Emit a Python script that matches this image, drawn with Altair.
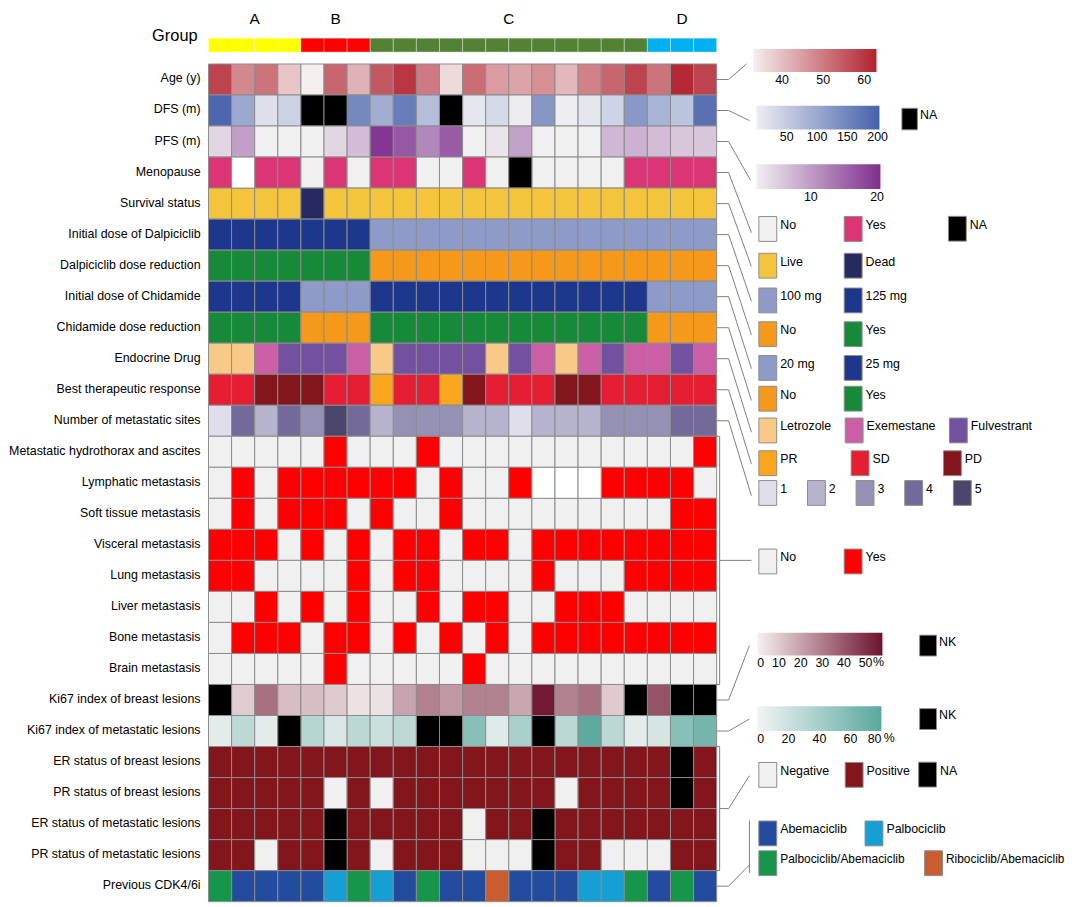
import altair as alt
import pandas as pd

FONT = "Liberation Sans, Arial, Helvetica, sans-serif"
GRID = "#8c8c8c"
LINE = "#7f7f7f"

# ---------------- data ----------------
N_COL = 22
group = ["A"] * 4 + ["B"] * 3 + ["C"] * 12 + ["D"] * 3
group_names = ["A", "B", "C", "D"]
group_colors = ["#FFFF00", "#FF0000", "#548235", "#00B0F0"]

row_labels = [
    "Age (y)", "DFS (m)", "PFS (m)", "Menopause", "Survival status",
    "Initial dose of Dalpiciclib", "Dalpiciclib dose reduction",
    "Initial dose of Chidamide", "Chidamide dose reduction", "Endocrine Drug",
    "Best therapeutic response", "Number of metastatic sites",
    "Metastatic hydrothorax and ascites", "Lymphatic metastasis",
    "Soft tissue metastasis", "Visceral metastasis", "Lung metastasis",
    "Liver metastasis", "Bone metastasis", "Brain metastasis",
    "Ki67 index of breast lesions", "Ki67 index of metastatic lesions",
    "ER status of breast lesions", "PR status of breast lesions",
    "ER status of metastatic lesions", "PR status of metastatic lesions",
    "Previous CDK4/6i",
]

age = [58, 48, 51, 39, 33, 53, 42, 55, 60, 50, 36, 52, 45, 44, 47, 41, 49, 53, 58, 51, 62, 58]
dfs = [195, 99, 20, 41, None, None, 145, 93, 162, 70, None, 12, 30, 3, 125, 0, 12, 38, 123, 84, 61, 180]
pfs = [4.2, 9.6, 1.5, 1.5, 1.5, 4.2, 6.8, 19.8, 16.5, 12, 16.2, 1.5, 2.9, 9.5, 1.5, 1.5, 1.5, 7.2, 7.8, 6.8, 5.8, 5.8]
menopause = ["Yes", "", "Yes", "Yes", "No", "Yes", "No", "Yes", "Yes", "No", "No", "Yes",
             "No", "NA", "No", "No", "No", "No", "Yes", "Yes", "Yes", "Yes"]
survival = ["Live", "Live", "Live", "Live", "Dead"] + ["Live"] * 17
dalpiciclib_dose = ["125 mg"] * 7 + ["100 mg"] * 15
dalpiciclib_reduction = ["Yes"] * 7 + ["No"] * 15
chidamide_dose = ["25 mg"] * 4 + ["20 mg"] * 3 + ["25 mg"] * 12 + ["20 mg"] * 3
chidamide_reduction = ["Yes"] * 4 + ["No"] * 3 + ["Yes"] * 12 + ["No"] * 3
endocrine = ["Letrozole", "Letrozole", "Exemestane", "Fulvestrant", "Fulvestrant", "Fulvestrant",
             "Exemestane", "Letrozole", "Fulvestrant", "Fulvestrant", "Fulvestrant", "Fulvestrant",
             "Letrozole", "Fulvestrant", "Exemestane", "Letrozole", "Exemestane", "Fulvestrant",
             "Exemestane", "Exemestane", "Fulvestrant", "Exemestane"]
response = ["SD", "SD", "PD", "PD", "PD", "SD", "SD", "PR", "SD", "SD", "PR", "PD",
            "SD", "SD", "SD", "PD", "PD", "SD", "SD", "SD", "SD", "SD"]
n_sites = [1, 4, 2, 4, 3, 5, 4, 2, 3, 3, 3, 2, 2, 1, 2, 2, 2, 3, 3, 3, 4, 4]

hydrothorax = [0, 0, 0, 0, 0, 1, 0, 0, 0, 1, 0, 0, 0, 0, 0, 0, 0, 0, 0, 0, 0, 1]
lymphatic = [0, 1, 0, 1, 1, 1, 1, 1, 1, 0, 1, 0, 0, 1, None, None, None, 1, 1, 1, 1, 0]
soft_tissue = [0, 1, 0, 1, 1, 1, 0, 1, 0, 0, 1, 0, 0, 0, 0, 0, 0, 0, 0, 0, 1, 1]
visceral = [1, 1, 1, 0, 1, 0, 1, 0, 1, 1, 0, 1, 1, 0, 1, 1, 1, 1, 1, 1, 1, 1]
lung = [1, 1, 0, 0, 0, 0, 1, 0, 1, 1, 0, 0, 0, 0, 1, 0, 0, 0, 1, 1, 1, 1]
liver = [0, 0, 1, 0, 1, 0, 1, 0, 0, 1, 0, 1, 1, 0, 0, 1, 1, 1, 0, 0, 0, 0]
bone = [0, 1, 1, 1, 0, 1, 1, 0, 1, 0, 1, 0, 1, 0, 1, 1, 1, 1, 1, 1, 1, 1]
brain = [0, 0, 0, 0, 0, 1, 0, 0, 0, 0, 0, 1, 0, 0, 0, 0, 0, 0, 0, 0, 0, 0]
metastasis_rows = [hydrothorax, lymphatic, soft_tissue, visceral, lung, liver, bone, brain]

ki67_breast = [None, 9.5, 33, 13, 13, 10, 4, 4, 20, 29, 23, 29, 29, 19, 56, 29, 33, 10, None, 41, None, None]
ki67_meta = [8, 28, 8, None, 32, 13, 29, 21, 28, None, None, 56, 10, 39, None, 29, 78, 29, 8, 16, 56, 66]

er_breast = ["P", "P", "P", "P", "P", "P", "P", "P", "P", "P", "P", "P", "P", "P", "P", "P", "P", "P", "P", "P", "NA", "P"]
pr_breast = ["P", "P", "P", "P", "P", "N", "P", "N", "P", "P", "P", "P", "P", "P", "P", "N", "P", "P", "P", "P", "NA", "P"]
er_meta = ["P", "P", "P", "P", "P", "NA", "P", "P", "P", "P", "P", "N", "P", "P", "NA", "P", "P", "P", "P", "P", "P", "P"]
pr_meta = ["P", "P", "N", "P", "P", "NA", "P", "N", "P", "P", "P", "N", "N", "N", "NA", "P", "P", "N", "N", "N", "P", "P"]
status_names = {"P": "Positive", "N": "Negative", "NA": "NA"}

cdk = ["PA", "A", "A", "A", "A", "P", "PA", "P", "A", "PA", "A", "A", "RA", "A", "A", "A",
       "P", "P", "PA", "A", "PA", "A"]
cdk_names = {"A": "Abemaciclib", "P": "Palbociclib", "PA": "Palbociclib/Abemaciclib",
             "RA": "Ribociclib/Abemaciclib"}

# ---------------- layout ----------------
W, H = 512, 896
OX, OY = 210, 9
Y_TOP = -1.664
CW = W / N_COL
RH = H / (27 - Y_TOP)
LEG_DX = 6  # legends are drawn a few px left of legendX; compensate


def ux(px):
    return (px - OX) / CW


def uy(py):
    return (py - OY) / RH + Y_TOP


def py_of(r):
    return OY + (r - Y_TOP) * RH


XS = alt.Scale(domain=[0, N_COL], nice=False, zero=False)
YS = alt.Scale(domain=[Y_TOP, 27], reverse=True, nice=False, zero=False)
X = alt.X("c:Q", scale=XS, axis=None)
X2 = alt.X2("c1:Q")
Y = alt.Y("r:Q", scale=YS, axis=None)
Y2 = alt.Y2("r1:Q")

# legend swatches: box drawn in the right part of the symbol's square so labels sit close
BOX = ("M-0.44,-1H1V1H-0.44Z", 625, 7.0)      # 18 x 25
NA_BOX = ("M-0.44,-1H1V1H-0.44Z", 471, 6.1)   # 15.6 x 21.7
NK_BOX = ("M-0.62,-1H1V1H-0.62Z", 441, 4.0)   # 17 x 21


def frame(ri, vals):
    return pd.DataFrame({"c": list(range(N_COL)), "c1": list(range(1, N_COL + 1)),
                         "r": [ri] * N_COL, "r1": [ri + 1] * N_COL, "v": list(vals)})


def rect(df, color=None, **mark):
    ch = alt.Chart(df).mark_rect(stroke=GRID, strokeWidth=1, **mark).encode(x=X, x2=X2, y=Y, y2=Y2)
    if color is not None:
        ch = ch.encode(color=color)
    return ch


def sym_legend(x, y, ncol, colpad, box=BOX, loff=3, fs=12.5):
    path, size, inset = box
    return alt.Legend(orient="none", legendX=x - inset + LEG_DX - OX, legendY=y - OY,
                      direction="horizontal", columns=ncol, title=None, symbolType=path,
                      symbolSize=size, symbolStrokeColor=GRID, symbolStrokeWidth=1,
                      symbolOpacity=1, labelFont=FONT, labelFontSize=fs, labelColor="black",
                      labelOffset=loff, labelBaseline="alphabetic", columnPadding=colpad,
                      rowPadding=5, padding=0, gridAlign="each")


def grad_legend(x, y, length, thick, values):
    return alt.Legend(orient="none", legendX=x + LEG_DX - OX, legendY=y - OY,
                      direction="horizontal", title=None, gradientLength=length,
                      gradientThickness=thick, gradientStrokeWidth=0, values=values,
                      labelFont=FONT, labelFontSize=12.5, labelColor="black", labelOffset=2,
                      labelAlign="center", labelOverlap=False, padding=0)


def cat_color(domain, rng, legend):
    return alt.Color("v:N", scale=alt.Scale(domain=domain, range=rng), legend=legend)


def quant_color(domain, rng, legend):
    return alt.Color("v:Q", scale=alt.Scale(domain=domain, range=rng, interpolate="rgb", clamp=True),
                     legend=legend)


layers = []
blanks = []

# group bar
gdf = pd.DataFrame({"c": list(range(N_COL)), "c1": list(range(1, N_COL + 1)), "g": group,
                    "cc": [i + 0.5 for i in range(N_COL)], "r": uy(35), "r1": uy(49)})
layers.append(
    alt.Chart(gdf).mark_rect(stroke="white", strokeOpacity=0.35, strokeWidth=1).encode(
        x=X, x2=X2, y=Y, y2=Y2,
        color=alt.Color("g:N", scale=alt.Scale(domain=group_names, range=group_colors), legend=None))
)
layers.append(
    alt.Chart(gdf).transform_aggregate(cm="mean(cc)", groupby=["g"]).transform_calculate(
        yt=str(uy(16))).mark_text(font=FONT, fontSize=15.5, color="black").encode(
        x=alt.X("cm:Q", scale=XS, axis=None), y=alt.Y("yt:Q", scale=YS, axis=None), text="g:N")
)
layers.append(
    alt.Chart(pd.DataFrame({"t": ["Group"], "yy": [uy(33)]})).mark_text(
        font=FONT, fontSize=16.5, color="black", align="right", baseline="middle").encode(
        x=alt.value(-11), y=alt.Y("yy:Q", scale=YS, axis=None), text="t:N")
)
# row labels
ldf = pd.DataFrame({"label": row_labels, "yc": [i + 0.5 for i in range(len(row_labels))]})
layers.append(
    alt.Chart(ldf).mark_text(font=FONT, fontSize=12.5, color="black", align="right",
                             baseline="middle", dy=-1).encode(
        x=alt.value(-8), y=alt.Y("yc:Q", scale=YS, axis=None), text="label:N")
)

# Age
layers.append(rect(frame(0, age), quant_color([33, 63], ["#F4EEEE", "#B2222F"],
                                              grad_legend(753, 46, 124, 23, [40, 50, 60]))))
# DFS
d = frame(1, dfs)
layers.append(rect(d[d.v.notna()], quant_color([0, 203], ["#EEEEF2", "#4561AB"],
                                               grad_legend(756, 103, 124, 24, [50, 100, 150, 200]))))
layers.append(rect(d[d.v.isna()].assign(v="NA"),
                   cat_color(["NA"], ["#000000"], sym_legend(902, 105, 1, 0, NA_BOX, 2))))
# PFS
layers.append(rect(frame(2, pfs), quant_color([1.8, 20.5], ["#F0F0F0", "#7F2F8E"],
                                              grad_legend(756, 162, 125, 25, [10, 20]))))
# Menopause
d = frame(3, menopause)
blanks.append(d[d.v == ""])
layers.append(rect(d[d.v.isin(["No", "Yes"])],
                   cat_color(["No", "Yes"], ["#F0F0F0", "#DC3575"], sym_legend(758, 214, 2, 41))))
layers.append(rect(d[d.v == "NA"], cat_color(["NA"], ["#000000"], sym_legend(949, 214, 1, 0))))
# Survival
layers.append(rect(frame(4, survival), cat_color(["Live", "Dead"], ["#F5C43D", "#262A5E"],
                                                 sym_legend(758, 251, 2, 34))))
# Dalpiciclib
layers.append(rect(frame(5, dalpiciclib_dose), cat_color(["100 mg", "125 mg"], ["#8E9BC8", "#1C378C"],
                                                         sym_legend(758, 286, 2, 15))))
layers.append(rect(frame(6, dalpiciclib_reduction), cat_color(["No", "Yes"], ["#F6991B", "#178A3A"],
                                                              sym_legend(758, 320, 2, 41))))
# Chidamide
layers.append(rect(frame(7, chidamide_dose), cat_color(["20 mg", "25 mg"], ["#8E9BC8", "#1C378C"],
                                                       sym_legend(758, 354, 2, 22))))
layers.append(rect(frame(8, chidamide_reduction), cat_color(["No", "Yes"], ["#F6991B", "#178A3A"],
                                                            sym_legend(758, 385, 2, 41))))
# Endocrine
layers.append(rect(frame(9, endocrine),
                   cat_color(["Letrozole", "Exemestane", "Fulvestrant"], ["#F8C987", "#CA5FA6", "#7350A0"],
                             sym_legend(758, 417, 3, 6))))
# Response
layers.append(rect(frame(10, response), cat_color(["PR", "SD", "PD"], ["#F9A61C", "#E51E33", "#83161D"],
                                                  sym_legend(758, 450, 3, 46))))
# sites
layers.append(rect(frame(11, n_sites),
                   cat_color([1, 2, 3, 4, 5], ["#E0DEEB", "#B6B3CF", "#9591B5", "#736A9A", "#4A4569"],
                             sym_legend(758, 480, 5, 13))))
# metastasis
mdf = pd.concat([frame(12 + i, vals) for i, vals in enumerate(metastasis_rows)], ignore_index=True)
mdf["v"] = mdf["v"].map(lambda x: "" if pd.isna(x) else ("Yes" if x == 1 else "No"))
blanks.append(mdf[mdf.v == ""])
layers.append(rect(mdf[mdf.v != ""], cat_color(["No", "Yes"], ["#F0F0F0", "#FF0000"],
                                               sym_legend(758, 549, 2, 41))))
# Ki67 breast
d = frame(20, ki67_breast)
layers.append(rect(d[d.v.notna()], quant_color([0, 57.8], ["#F5F0F0", "#6E1230"],
                                               grad_legend(757, 634, 126, 23, [0, 10, 20, 30, 40, 50]))))
layers.append(rect(d[d.v.isna()].assign(v="NK"),
                   cat_color(["NK"], ["#000000"], sym_legend(920, 636, 1, 0, NK_BOX, 2))))
# Ki67 metastatic
d = frame(21, ki67_meta)
layers.append(rect(d[d.v.notna()], quant_color([0, 80], ["#F2F4F4", "#5AA89D"],
                                               grad_legend(757, 708, 125, 25, [0, 20, 40, 60, 80]))))
layers.append(rect(d[d.v.isna()].assign(v="NK"),
                   cat_color(["NK"], ["#000000"], sym_legend(920, 710, 1, 0, NK_BOX, 2))))
# unit signs next to the Ki67 gradient scales
pct = pd.DataFrame({"t": ["%", "%"], "px": [ux(885), ux(896)], "py": [uy(664), uy(740)]})
layers.append(
    alt.Chart(pct).mark_text(font=FONT, fontSize=12.5, color="black", baseline="middle").encode(
        x=alt.X("px:Q", scale=XS, axis=None), y=alt.Y("py:Q", scale=YS, axis=None), text="t:N")
)
# ER / PR
sdf = pd.concat([frame(22 + i, vals) for i, vals in enumerate([er_breast, pr_breast, er_meta, pr_meta])],
                ignore_index=True)
sdf["v"] = sdf["v"].map(status_names)
layers.append(rect(sdf[sdf.v != "NA"], cat_color(["Negative", "Positive"], ["#F0F0F0", "#83161D"],
                                                 sym_legend(758, 764, 2, 8))))
layers.append(rect(sdf[sdf.v == "NA"], cat_color(["NA"], ["#000000"], sym_legend(919, 764, 1, 0))))
# Previous CDK4/6i
d = frame(26, cdk)
d["v"] = d["v"].map(cdk_names)
layers.append(rect(d[d.v.isin(["Abemaciclib", "Palbociclib"])],
                   cat_color(["Abemaciclib", "Palbociclib"], ["#234B9E", "#169FD4"],
                             sym_legend(758, 823, 2, 10))))
layers.append(rect(d[d.v.isin(["Palbociclib/Abemaciclib", "Ribociclib/Abemaciclib"])],
                   cat_color(["Palbociclib/Abemaciclib", "Ribociclib/Abemaciclib"], ["#16964A", "#C95D2F"],
                             sym_legend(758, 853, 2, 12, fs=12))))
# blank cells
layers.append(rect(pd.concat(blanks, ignore_index=True), fill="white"))

# connector lines (page pixel layout converted into data units)
ends = [(752, 61), (755, 118), (756, 178), (757, 231), (757, 265), (757, 300),
        (757, 334), (757, 368), (757, 400), (757, 432), (757, 464), (757, 496)]
paths = []
for i, (ex, ey) in enumerate(ends):
    yc = py_of(i + 0.5)
    paths.append([(722, yc), (734, yc), (ex, ey)])
t, b = py_of(12), py_of(20)
paths.append([(722, t), (725, t), (725, b), (722, b)])
paths.append([(725, (t + b) / 2), (757, (t + b) / 2)])
paths.append([(722, py_of(20.5)), (734, py_of(20.5)), (755, 647)])
paths.append([(722, py_of(21.5)), (734, py_of(21.5)), (755, 721)])
t, b = py_of(22), py_of(26)
paths.append([(722, t), (725, t), (725, b), (722, b)])
paths.append([(725, (t + b) / 2), (734, (t + b) / 2), (755, 778)])
paths.append([(722, py_of(26.5)), (734, py_of(26.5)), (755, 868)])
paths.append([(755, 823), (755, 876)])
rows = []
for pid, pts in enumerate(paths):
    for k, (px, py) in enumerate(pts):
        rows.append({"id": pid, "k": k, "lx": ux(px), "ly": uy(py)})
layers.append(
    alt.Chart(pd.DataFrame(rows)).mark_line(color=LINE, strokeWidth=1).encode(
        x=alt.X("lx:Q", scale=XS, axis=None), y=alt.Y("ly:Q", scale=YS, axis=None),
        detail="id:N", order="k:Q")
)

chart = alt.layer(*layers).resolve_scale(color="independent").properties(
    width=W, height=H,
    autosize=alt.AutoSizeParams(type="none"),
    padding={"left": 202, "top": 1, "right": 358, "bottom": 2},
).configure_view(stroke=None)

chart.save("out.html", embed_options={"renderer": "svg", "actions": False})
